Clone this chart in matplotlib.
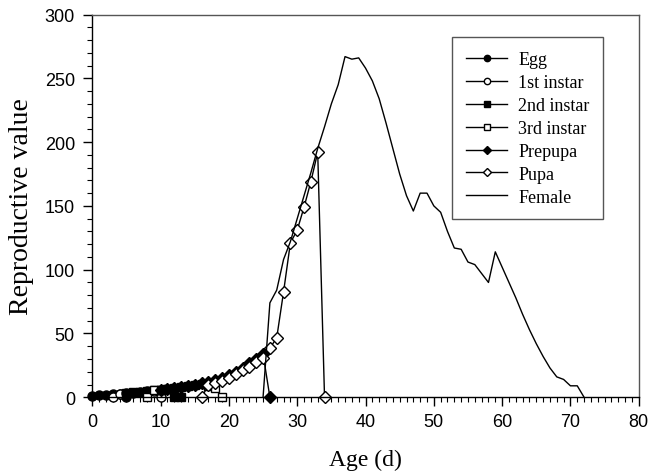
import matplotlib
matplotlib.use("Agg")
import matplotlib.pyplot as plt
from matplotlib.ticker import MultipleLocator

# ages (d) and reproductive values
egg_age = [0, 1, 2, 3, 4, 5]
egg_v = [1.2, 1.5, 1.9, 2.3, 2.8, 0]

inst1_age = [3, 4, 5, 6, 7, 8, 9, 10]
inst1_v = [0, 2.6, 3.1, 3.6, 4.1, 4.7, 5.2, 0]

inst2_age = [5, 6, 7, 8, 9, 10, 11, 12, 13]
inst2_v = [3.3, 3.8, 4.3, 4.9, 5.5, 6.1, 6.8, 0, 0]

inst3_age = [8, 9, 10, 11, 12, 13, 14, 15, 16, 17, 18, 19]
inst3_v = [0, 5.4, 6.0, 6.6, 7.4, 8.0, 8.7, 9.5, 10.4, 9.0, 7.0, 0]

prepupa_age = [10, 11, 12, 13, 14, 15, 16, 17, 18, 19, 20, 21, 22, 23, 24, 25, 26]
prepupa_v = [6.1, 6.8, 7.5, 8.2, 9.0, 9.9, 11.0, 12.3, 13.8, 15.5, 17.5, 20.0,
             23.0, 26.5, 30.0, 34.0, 0]

pupa_age = [16, 17, 18, 19, 20, 21, 22, 23, 24, 25, 26, 27, 28, 29, 30, 31, 32, 33, 34]
pupa_v = [0, 9.5, 11.5, 13.0, 15.5, 18.0, 21.0, 24.0, 27.5, 31.0, 38.5, 46.6,
          82.5, 121, 131, 149, 169, 192, 0]

female_age = list(range(25, 73))
female_v = [0, 74, 84, 108, 122, 140, 158, 176, 195, 212, 230, 245, 267, 265,
            266, 258, 248, 234, 215, 195, 175, 158, 146, 160, 160, 150, 145, 130,
            117, 116, 106, 104, 97, 90, 114, 102, 90, 78, 65, 53, 42, 32, 23, 16,
            14, 9, 9, 0]

fig = plt.figure(figsize=(6.49, 4.77), dpi=100)
ax = fig.add_axes([0.1422, 0.165, 0.842, 0.8025])

kw = dict(color="black", lw=1.0, clip_on=False)
ax.plot(egg_age, egg_v, marker="o", ms=6.5, mfc="black", mec="black", label="Egg", **kw)
ax.plot(inst1_age, inst1_v, marker="o", ms=6.5, mfc="white", mec="black", label="1st instar", **kw)
ax.plot(inst2_age, inst2_v, marker="s", ms=6, mfc="black", mec="black", label="2nd instar", **kw)
ax.plot(inst3_age, inst3_v, marker="s", ms=6, mfc="white", mec="black", label="3rd instar", **kw)
ax.plot(prepupa_age, prepupa_v, marker="D", ms=6, mfc="black", mec="black", label="Prepupa", **kw)
ax.plot(pupa_age, pupa_v, marker="D", ms=6, mfc="white", mec="black", label="Pupa", **kw)
ax.plot(female_age, female_v, label="Female", **kw)

ax.set_xlim(0, 80)
ax.set_ylim(0, 300)
ax.xaxis.set_major_locator(MultipleLocator(10))
ax.xaxis.set_minor_locator(MultipleLocator(1))
ax.yaxis.set_major_locator(MultipleLocator(50))
ax.yaxis.set_minor_locator(MultipleLocator(10))
ax.tick_params(which="major", direction="out", length=6.5, width=1.0,
               labelsize=13, top=False, right=False)
ax.tick_params(axis="y", which="major", pad=6)
ax.tick_params(axis="x", which="major", pad=5)
ax.tick_params(which="minor", direction="out", length=3.5, width=0.8,
               top=False, right=False)
for lab in ax.get_xticklabels() + ax.get_yticklabels():
    lab.set_fontfamily("Liberation Sans")

for s in ["top", "right"]:
    ax.spines[s].set_color("#555555")
for s in ax.spines.values():
    s.set_linewidth(1.0)

ax.set_xlabel("Age (d)", fontfamily="Liberation Serif", fontsize=17, labelpad=13)
ax.set_ylabel("Reproductive value", fontfamily="Liberation Serif", fontsize=20, labelpad=8)

leg = ax.legend(loc="upper right", bbox_to_anchor=(0.935, 0.94),
                prop={"family": "Liberation Serif", "size": 13},
                fancybox=False, edgecolor="#555555", framealpha=1,
                labelspacing=0.33, handlelength=2.3, handletextpad=0.6,
                markerscale=0.7, borderpad=0.75, borderaxespad=0)
leg.get_frame().set_linewidth(1.0)

fig.savefig("out.png", dpi=100)
